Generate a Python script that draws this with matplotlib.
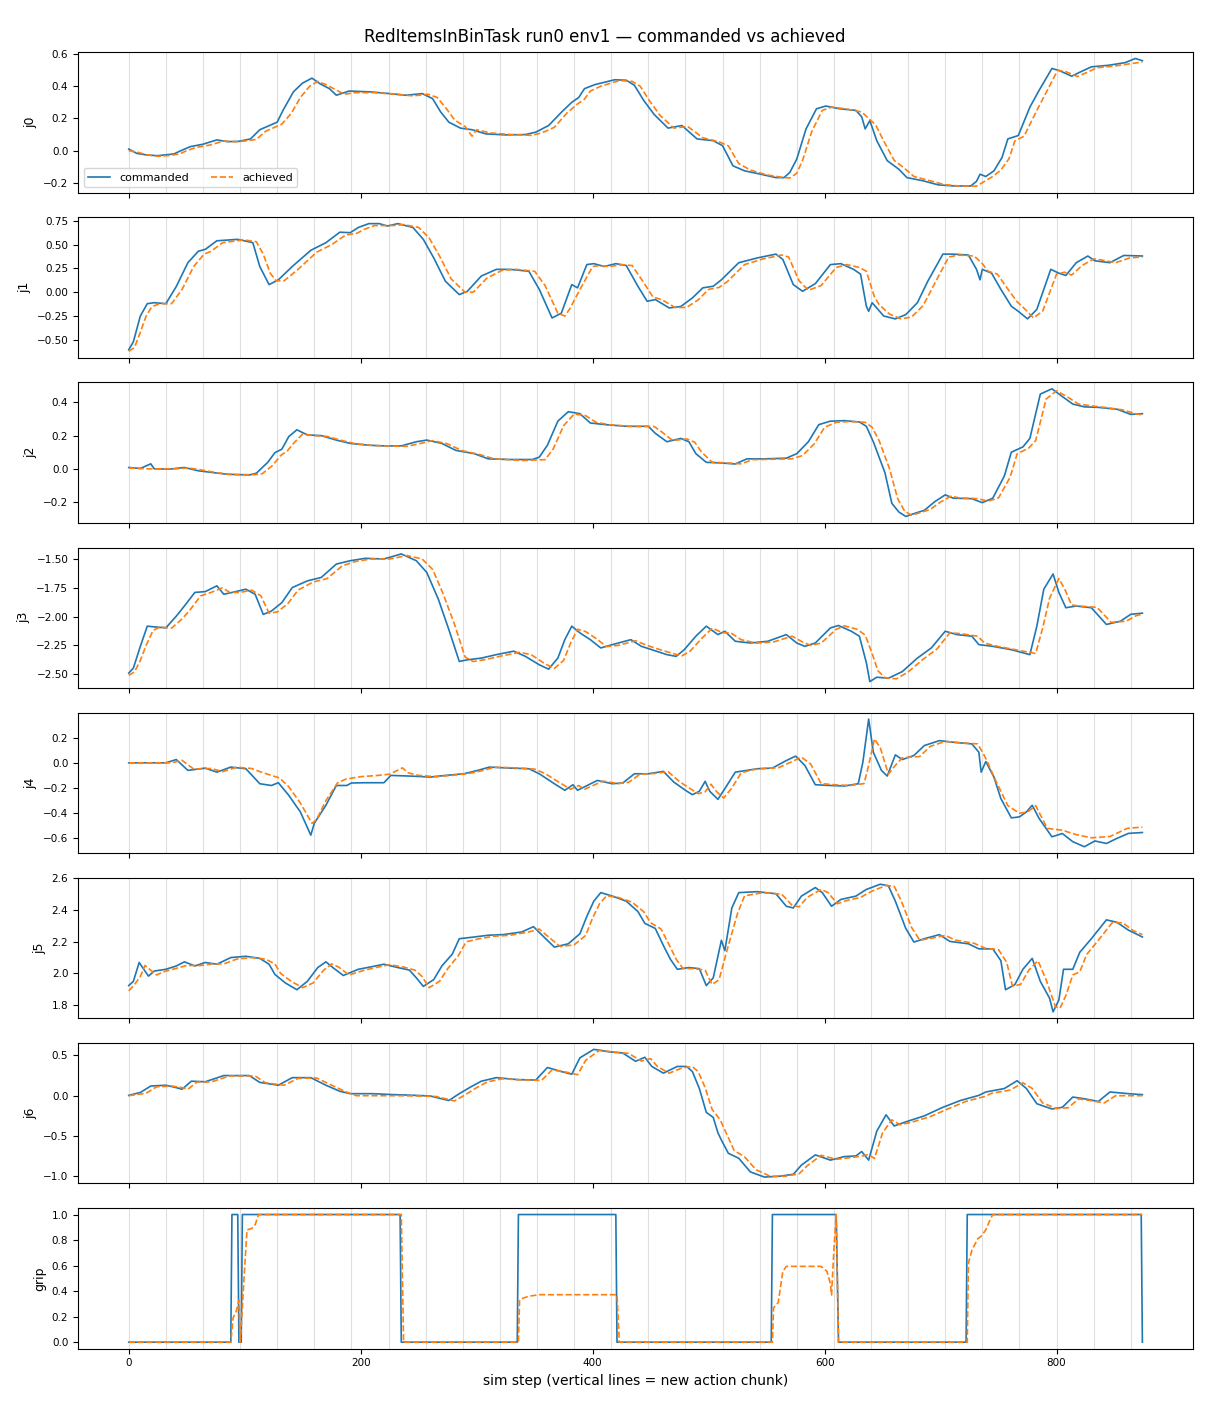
import numpy as np
import matplotlib
matplotlib.use("Agg")
import matplotlib.pyplot as plt

# (step, value) points, commanded / achieved per joint
j0_cmd = [(0,0.01),(7,-0.017),(16,-0.027),(25,-0.031),(33,-0.025),(39,-0.02),(45,0.0),(53,0.025),(64,0.04),(76,0.067),(85,0.056),(95,0.058),(105,0.073),(113,0.13),(128,0.177),(133,0.25),(142,0.365),(150,0.42),(158,0.45),(165,0.415),(173,0.385),(179,0.344),(190,0.37),(208,0.365),(225,0.354),(239,0.344),(253,0.354),(262,0.323),(269,0.24),(276,0.177),(286,0.14),(296,0.13),(308,0.104),(325,0.098),(342,0.10),(351,0.115),(362,0.156),(374,0.245),(382,0.30),(388,0.33),(393,0.385),(402,0.41),(419,0.44),(429,0.437),(436,0.406),(444,0.312),(453,0.225),(465,0.14),(477,0.156),(490,0.073),(504,0.062),(512,0.031),(521,-0.094),(531,-0.125),(545,-0.146),(558,-0.167),(565,-0.167),(570,-0.135),(576,-0.052),(584,0.135),(593,0.26),(601,0.277),(613,0.26),(627,0.25),(632,0.21),(635,0.135),(639,0.187),(645,0.062),(654,-0.062),(664,-0.115),(671,-0.167),(685,-0.187),(698,-0.212),(712,-0.219),(726,-0.219),(731,-0.19),(734,-0.146),(739,-0.16),(746,-0.125),(753,-0.042),(758,0.073),(767,0.094),(777,0.27),(785,0.375),(796,0.51),(803,0.495),(813,0.462),(821,0.49),(830,0.52),(845,0.53),(859,0.546),(868,0.572),(874,0.558)]
j0_ach = [(0,0.0),(8,-0.01),(15,-0.025),(25,-0.035),(35,-0.03),(44,-0.02),(50,0.0),(58,0.02),(70,0.035),(82,0.06),(92,0.055),(100,0.06),(110,0.07),(118,0.12),(132,0.165),(140,0.23),(148,0.33),(156,0.40),(163,0.43),(170,0.41),(178,0.38),(186,0.35),(195,0.36),(212,0.36),(230,0.35),(245,0.34),(258,0.35),(266,0.33),(274,0.26),(281,0.19),(290,0.15),(296,0.09),(300,0.13),(312,0.11),(330,0.10),(347,0.095),(356,0.11),(367,0.145),(378,0.235),(387,0.29),(393,0.32),(398,0.37),(407,0.40),(423,0.435),(434,0.43),(441,0.40),(449,0.31),(458,0.22),(470,0.14),(482,0.15),(495,0.08),(509,0.055),(517,0.03),(526,-0.08),(536,-0.12),(550,-0.15),(563,-0.165),(570,-0.17),(576,-0.14),(581,-0.06),(589,0.12),(598,0.25),(606,0.27),(618,0.26),(632,0.24),(638,0.20),(644,0.16),(651,0.06),(660,-0.06),(669,-0.11),(677,-0.16),(690,-0.185),(703,-0.21),(717,-0.22),(731,-0.22),(738,-0.19),(745,-0.16),(752,-0.12),(759,-0.05),(764,0.06),(772,0.09),(783,0.25),(791,0.36),(801,0.50),(808,0.49),(818,0.46),(826,0.485),(835,0.515),(850,0.525),(864,0.54),(874,0.55)]

j1_cmd = [(0,-0.604),(4,-0.52),(10,-0.25),(16,-0.12),(22,-0.11),(32,-0.12),(41,0.06),(51,0.31),(60,0.43),(66,0.45),(76,0.54),(94,0.555),(107,0.52),(113,0.27),(121,0.08),(129,0.13),(141,0.27),(157,0.44),(170,0.52),(182,0.63),(191,0.625),(198,0.68),(207,0.72),(216,0.72),(223,0.695),(232,0.72),(245,0.68),(254,0.555),(263,0.36),(273,0.116),(285,-0.025),(292,0.01),(304,0.17),(317,0.24),(329,0.24),(345,0.22),(354,0.03),(365,-0.27),(373,-0.22),(382,0.08),(387,0.046),(395,0.29),(401,0.30),(410,0.27),(420,0.30),(429,0.28),(439,0.063),(447,-0.095),(454,-0.077),(466,-0.165),(476,-0.15),(486,-0.06),(495,0.046),(504,0.063),(511,0.13),(526,0.31),(542,0.36),(558,0.40),(564,0.344),(573,0.08),(581,0.01),(592,0.09),(605,0.29),(614,0.30),(625,0.24),(631,0.19),(636,-0.147),(638,-0.20),(641,-0.11),(651,-0.25),(661,-0.28),(670,-0.235),(680,-0.11),(689,0.116),(702,0.40),(711,0.40),(724,0.39),(731,0.24),(734,0.13),(736,0.24),(744,0.20),(752,0.03),(761,-0.147),(767,-0.20),(775,-0.28),(783,-0.18),(795,0.24),(802,0.20),(808,0.176),(817,0.31),(827,0.38),(833,0.33),(846,0.31),(858,0.386),(874,0.38)]
j1_ach = [(0,-0.62),(5,-0.58),(10,-0.42),(15,-0.25),(20,-0.15),(27,-0.12),(37,-0.12),(46,0.03),(56,0.27),(65,0.40),(71,0.43),(81,0.52),(99,0.55),(110,0.53),(116,0.40),(122,0.20),(127,0.12),(134,0.12),(146,0.24),(162,0.42),(175,0.50),(187,0.60),(197,0.62),(203,0.66),(212,0.70),(228,0.70),(237,0.71),(250,0.68),(259,0.57),(268,0.38),(278,0.14),(290,0.0),(297,0.0),(309,0.15),(322,0.23),(334,0.24),(350,0.22),(359,0.07),(370,-0.22),(376,-0.25),(380,-0.18),(390,0.05),(400,0.27),(406,0.28),(415,0.27),(425,0.29),(434,0.28),(443,0.12),(452,-0.05),(460,-0.08),(471,-0.16),(481,-0.16),(491,-0.08),(500,0.03),(509,0.05),(516,0.11),(531,0.29),(547,0.35),(563,0.39),(569,0.37),(578,0.12),(586,0.02),(597,0.07),(610,0.26),(619,0.29),(630,0.26),(636,0.22),(643,-0.05),(647,-0.13),(656,-0.23),(666,-0.28),(675,-0.26),(685,-0.14),(694,0.07),(707,0.37),(716,0.39),(729,0.38),(736,0.30),(741,0.22),(749,0.19),(757,0.05),(766,-0.10),(773,-0.18),(780,-0.27),(788,-0.20),(800,0.19),(807,0.21),(813,0.18),(822,0.28),(832,0.35),(838,0.34),(851,0.31),(863,0.36),(874,0.37)]

j2_cmd = [(0,0.008),(10,0.002),(19,0.03),(22,0.0),(35,-0.002),(48,0.008),(60,-0.012),(73,-0.023),(85,-0.033),(104,-0.037),(110,-0.027),(120,0.04),(126,0.097),(132,0.118),(138,0.194),(145,0.235),(154,0.204),(166,0.20),(179,0.173),(191,0.153),(207,0.142),(220,0.138),(235,0.138),(248,0.163),(257,0.173),(270,0.153),(282,0.111),(298,0.091),(310,0.06),(329,0.056),(348,0.056),(354,0.07),(361,0.142),(370,0.287),(379,0.344),(389,0.332),(398,0.276),(411,0.266),(429,0.256),(448,0.256),(454,0.214),(464,0.163),(476,0.183),(483,0.163),(489,0.091),(498,0.039),(511,0.035),(523,0.029),(533,0.06),(548,0.06),(567,0.064),(576,0.091),(586,0.163),(595,0.266),(605,0.287),(617,0.29),(630,0.282),(636,0.256),(642,0.163),(652,-0.023),(658,-0.208),(664,-0.26),(670,-0.287),(677,-0.27),(686,-0.25),(695,-0.198),(704,-0.157),(711,-0.177),(727,-0.18),(736,-0.204),(745,-0.177),(755,-0.043),(761,0.10),(771,0.132),(777,0.183),(786,0.45),(796,0.482),(805,0.435),(814,0.39),(824,0.373),(836,0.37),(852,0.359),(864,0.328),(874,0.332)]
j2_ach = [(0,0.005),(15,0.0),(40,0.0),(52,0.005),(65,-0.01),(77,-0.025),(90,-0.035),(109,-0.035),(115,-0.03),(124,0.02),(131,0.08),(137,0.11),(143,0.16),(150,0.21),(159,0.20),(171,0.195),(184,0.17),(196,0.15),(212,0.14),(240,0.135),(253,0.155),(262,0.17),(275,0.15),(287,0.11),(303,0.085),(315,0.06),(340,0.05),(359,0.055),(366,0.12),(375,0.26),(384,0.33),(394,0.32),(403,0.28),(415,0.265),(434,0.255),(453,0.255),(460,0.22),(469,0.17),(481,0.18),(488,0.16),(494,0.10),(503,0.04),(516,0.035),(528,0.03),(538,0.055),(572,0.06),(581,0.08),(591,0.15),(600,0.25),(610,0.28),(622,0.285),(635,0.28),(641,0.25),(647,0.17),(656,0.0),(663,-0.18),(669,-0.255),(675,-0.28),(682,-0.265),(691,-0.245),(700,-0.20),(709,-0.165),(716,-0.175),(732,-0.18),(741,-0.195),(750,-0.175),(760,-0.05),(766,0.09),(776,0.125),(782,0.17),(791,0.42),(800,0.47),(810,0.43),(819,0.39),(829,0.38),(841,0.37),(857,0.355),(869,0.33),(874,0.325)]

j3_cmd = [(0,-2.49),(4,-2.447),(10,-2.258),(16,-2.083),(22,-2.089),(32,-2.098),(41,-1.996),(48,-1.908),(57,-1.79),(66,-1.783),(76,-1.733),(82,-1.806),(91,-1.786),(101,-1.762),(109,-1.806),(116,-1.981),(123,-1.952),(132,-1.879),(141,-1.748),(154,-1.69),(166,-1.66),(179,-1.544),(191,-1.515),(204,-1.494),(220,-1.50),(235,-1.456),(248,-1.515),(257,-1.617),(267,-1.85),(276,-2.112),(285,-2.389),(292,-2.375),(304,-2.36),(317,-2.33),(332,-2.30),(342,-2.345),(354,-2.418),(362,-2.456),(370,-2.36),(376,-2.20),(382,-2.083),(389,-2.141),(398,-2.20),(407,-2.272),(417,-2.243),(433,-2.20),(442,-2.258),(451,-2.287),(464,-2.33),(472,-2.345),(479,-2.287),(489,-2.17),(498,-2.083),(508,-2.156),(514,-2.127),(523,-2.214),(536,-2.229),(551,-2.214),(567,-2.156),(576,-2.229),(583,-2.258),(592,-2.229),(605,-2.098),(612,-2.077),(623,-2.127),(630,-2.17),(636,-2.40),(639,-2.564),(645,-2.526),(655,-2.535),(667,-2.477),(680,-2.36),(692,-2.272),(704,-2.127),(714,-2.156),(727,-2.17),(733,-2.243),(745,-2.258),(761,-2.287),(777,-2.33),(783,-2.083),(789,-1.762),(797,-1.63),(802,-1.79),(808,-1.923),(817,-1.908),(830,-1.923),(843,-2.068),(855,-2.04),(864,-1.98),(874,-1.97)]
j3_ach = [(0,-2.51),(5,-2.48),(10,-2.38),(15,-2.25),(21,-2.12),(27,-2.09),(37,-2.10),(46,-2.02),(53,-1.94),(62,-1.82),(71,-1.79),(81,-1.75),(87,-1.79),(96,-1.79),(106,-1.77),(114,-1.82),(121,-1.97),(128,-1.96),(137,-1.89),(146,-1.77),(159,-1.70),(171,-1.67),(184,-1.56),(196,-1.52),(209,-1.50),(225,-1.50),(240,-1.47),(253,-1.50),(262,-1.59),(271,-1.80),(281,-2.07),(290,-2.35),(297,-2.39),(309,-2.37),(322,-2.34),(337,-2.31),(347,-2.33),(359,-2.41),(367,-2.45),(375,-2.38),(381,-2.23),(387,-2.11),(394,-2.13),(403,-2.19),(412,-2.26),(422,-2.25),(437,-2.21),(447,-2.25),(456,-2.28),(469,-2.32),(477,-2.34),(484,-2.30),(494,-2.19),(503,-2.10),(512,-2.14),(519,-2.14),(528,-2.20),(541,-2.23),(556,-2.22),(572,-2.17),(581,-2.22),(588,-2.25),(597,-2.23),(610,-2.11),(617,-2.08),(628,-2.11),(635,-2.16),(641,-2.32),(646,-2.47),(652,-2.53),(662,-2.54),(672,-2.48),(685,-2.37),(697,-2.28),(708,-2.14),(719,-2.15),(732,-2.17),(738,-2.23),(750,-2.26),(766,-2.29),(782,-2.32),(788,-2.10),(794,-1.84),(802,-1.67),(807,-1.76),(813,-1.90),(822,-1.91),(835,-1.92),(847,-2.05),(860,-2.04),(869,-1.99),(874,-1.98)]

j4_cmd = [(0,0.0),(10,0.0),(32,0.0),(41,0.026),(51,-0.06),(66,-0.042),(76,-0.074),(88,-0.034),(101,-0.047),(113,-0.166),(123,-0.18),(129,-0.158),(138,-0.258),(148,-0.39),(157,-0.574),(160,-0.48),(170,-0.337),(179,-0.18),(188,-0.18),(192,-0.16),(204,-0.158),(220,-0.158),(226,-0.10),(242,-0.105),(260,-0.113),(273,-0.10),(289,-0.087),(301,-0.06),(311,-0.034),(329,-0.042),(345,-0.047),(354,-0.087),(367,-0.166),(376,-0.218),(383,-0.174),(387,-0.218),(404,-0.14),(417,-0.166),(426,-0.16),(436,-0.087),(448,-0.087),(461,-0.068),(470,-0.153),(480,-0.218),(486,-0.253),(492,-0.226),(497,-0.147),(501,-0.226),(508,-0.29),(514,-0.205),(523,-0.074),(533,-0.06),(542,-0.047),(555,-0.042),(567,0.018),(575,0.053),(583,-0.021),(592,-0.174),(605,-0.18),(617,-0.184),(629,-0.166),(633,0.005),(638,0.347),(642,0.084),(649,-0.06),(654,-0.105),(661,0.063),(667,0.026),(677,0.058),(686,0.137),(699,0.176),(711,0.163),(727,0.15),(733,0.084),(735,-0.074),(739,0.01),(746,-0.113),(752,-0.284),(761,-0.437),(768,-0.429),(774,-0.39),(779,-0.337),(785,-0.442),(796,-0.587),(805,-0.561),(814,-0.626),(824,-0.666),(833,-0.62),(843,-0.64),(852,-0.60),(862,-0.56),(874,-0.553)]
j4_ach = [(0,0.0),(15,0.0),(37,0.0),(46,0.02),(56,-0.05),(71,-0.045),(81,-0.07),(93,-0.035),(106,-0.045),(113,-0.07),(123,-0.10),(130,-0.12),(138,-0.19),(148,-0.32),(158,-0.48),(162,-0.45),(170,-0.30),(180,-0.16),(187,-0.13),(200,-0.11),(215,-0.10),(225,-0.09),(236,-0.04),(241,-0.08),(250,-0.10),(265,-0.11),(278,-0.10),(293,-0.085),(306,-0.06),(315,-0.035),(334,-0.04),(350,-0.05),(359,-0.085),(372,-0.16),(381,-0.21),(388,-0.18),(393,-0.21),(409,-0.145),(422,-0.165),(431,-0.155),(441,-0.09),(453,-0.085),(465,-0.07),(475,-0.15),(485,-0.21),(491,-0.245),(497,-0.23),(502,-0.17),(507,-0.23),(513,-0.28),(520,-0.20),(528,-0.08),(538,-0.055),(547,-0.045),(560,-0.04),(572,0.01),(580,0.045),(588,-0.01),(597,-0.165),(610,-0.175),(622,-0.18),(634,-0.165),(638,-0.02),(643,0.19),(648,0.12),(655,-0.09),(661,-0.02),(667,0.04),(682,0.05),(691,0.13),(704,0.17),(716,0.16),(732,0.15),(737,0.07),(740,0.015),(748,-0.15),(758,-0.34),(768,-0.40),(775,-0.39),(782,-0.34),(792,-0.52),(805,-0.535),(817,-0.57),(830,-0.595),(846,-0.585),(861,-0.52),(874,-0.51)]

j5_cmd = [(0,1.923),(4,1.95),(9,2.069),(13,2.026),(17,1.983),(22,2.015),(32,2.026),(41,2.047),(48,2.073),(57,2.047),(66,2.069),(76,2.058),(88,2.10),(101,2.108),(113,2.095),(121,2.058),(126,1.994),(135,1.94),(145,1.897),(154,1.95),(163,2.037),(170,2.073),(176,2.037),(185,1.987),(198,2.026),(210,2.043),(220,2.058),(232,2.037),(242,2.021),(248,1.972),(254,1.918),(263,1.961),(270,2.047),(279,2.122),(285,2.219),(298,2.23),(310,2.241),(323,2.245),(339,2.262),(349,2.295),(358,2.23),(367,2.166),(379,2.187),(389,2.25),(395,2.36),(401,2.456),(407,2.51),(417,2.488),(429,2.456),(439,2.391),(445,2.316),(454,2.284),(461,2.176),(467,2.09),(473,2.026),(483,2.037),(492,2.03),(498,1.923),(504,1.972),(511,2.209),(514,2.144),(520,2.413),(526,2.51),(542,2.516),(558,2.503),(567,2.424),(573,2.413),(580,2.488),(592,2.542),(598,2.51),(606,2.424),(614,2.467),(627,2.488),(636,2.53),(648,2.563),(655,2.553),(661,2.456),(670,2.284),(677,2.198),(686,2.219),(699,2.245),(708,2.202),(724,2.187),(733,2.155),(745,2.155),(752,2.08),(756,1.897),(764,1.929),(771,2.026),(779,2.095),(786,1.95),(794,1.843),(797,1.757),(802,1.832),(806,2.026),(814,2.026),(820,2.133),(830,2.219),(843,2.338),(852,2.323),(862,2.273),(874,2.23)]
j5_ach = [(0,1.89),(5,1.93),(10,1.98),(14,2.05),(19,2.02),(24,1.99),(30,2.01),(40,2.03),(50,2.05),(62,2.05),(72,2.06),(82,2.06),(93,2.09),(106,2.10),(118,2.09),(126,2.06),(131,2.00),(140,1.95),(150,1.91),(159,1.94),(168,2.02),(175,2.06),(181,2.04),(190,1.99),(203,2.02),(215,2.04),(225,2.055),(237,2.04),(247,2.02),(253,1.98),(259,1.91),(268,1.95),(275,2.03),(284,2.11),(291,2.20),(303,2.22),(315,2.235),(328,2.24),(344,2.26),(354,2.28),(362,2.23),(372,2.17),(384,2.18),(394,2.24),(400,2.35),(406,2.44),(412,2.49),(422,2.48),(434,2.45),(444,2.39),(450,2.32),(459,2.28),(466,2.18),(472,2.09),(478,2.03),(488,2.03),(497,2.02),(503,1.93),(509,1.96),(516,2.15),(525,2.38),(531,2.49),(547,2.51),(563,2.50),(572,2.43),(578,2.42),(585,2.48),(597,2.53),(603,2.51),(611,2.44),(619,2.46),(631,2.48),(641,2.52),(653,2.555),(660,2.55),(666,2.46),(675,2.29),(682,2.21),(691,2.22),(704,2.24),(713,2.21),(729,2.19),(738,2.16),(750,2.15),(757,2.07),(762,1.92),(769,1.93),(776,2.02),(784,2.08),(791,1.96),(799,1.79),(803,1.78),(808,1.86),(814,1.99),(820,2.01),(826,2.12),(835,2.20),(848,2.32),(857,2.32),(866,2.27),(874,2.245)]

j6_cmd = [(0,0.004),(10,0.04),(19,0.12),(32,0.13),(41,0.10),(46,0.08),(54,0.18),(66,0.173),(82,0.25),(104,0.25),(113,0.165),(129,0.13),(141,0.224),(157,0.224),(170,0.13),(182,0.055),(191,0.025),(210,0.025),(229,0.013),(248,0.004),(260,-0.004),(276,-0.06),(285,0.025),(295,0.11),(304,0.18),(317,0.224),(335,0.20),(351,0.194),(361,0.35),(373,0.30),(382,0.266),(389,0.47),(401,0.575),(414,0.545),(426,0.53),(437,0.427),(445,0.477),(451,0.363),(461,0.28),(473,0.363),(481,0.363),(486,0.30),(492,0.089),(498,-0.207),(504,-0.27),(508,-0.46),(511,-0.55),(517,-0.715),(526,-0.777),(536,-0.946),(548,-1.01),(561,-1.00),(573,-0.976),(580,-0.862),(592,-0.735),(605,-0.80),(617,-0.756),(627,-0.748),(632,-0.693),(638,-0.80),(645,-0.44),(653,-0.237),(660,-0.376),(670,-0.325),(686,-0.25),(702,-0.144),(717,-0.06),(733,0.004),(739,0.046),(755,0.089),(766,0.186),(774,0.089),(783,-0.10),(796,-0.165),(805,-0.144),(814,-0.017),(824,-0.038),(836,-0.072),(846,0.046),(862,0.025),(874,0.013)]
j6_ach = [(0,0.0),(15,0.03),(24,0.11),(37,0.12),(46,0.10),(51,0.08),(59,0.17),(71,0.17),(87,0.245),(109,0.245),(118,0.16),(134,0.13),(146,0.215),(162,0.22),(175,0.13),(187,0.05),(196,0.0),(215,0.0),(234,0.0),(253,-0.005),(265,-0.01),(281,-0.065),(290,0.01),(300,0.10),(309,0.17),(322,0.21),(340,0.195),(356,0.19),(365,0.32),(378,0.29),(387,0.26),(394,0.44),(406,0.565),(419,0.54),(431,0.525),(442,0.43),(450,0.46),(456,0.36),(466,0.28),(478,0.35),(486,0.36),(491,0.30),(497,0.10),(503,-0.17),(510,-0.30),(516,-0.49),(522,-0.68),(531,-0.76),(541,-0.92),(553,-1.00),(566,-1.00),(578,-0.97),(585,-0.87),(597,-0.74),(610,-0.79),(622,-0.77),(632,-0.75),(638,-0.73),(643,-0.78),(650,-0.46),(658,-0.30),(665,-0.36),(675,-0.33),(691,-0.26),(707,-0.16),(722,-0.07),(738,-0.01),(744,0.03),(760,0.07),(771,0.16),(779,0.09),(788,-0.09),(800,-0.16),(810,-0.15),(819,-0.04),(829,-0.06),(841,-0.09),(851,0.0),(866,0.0),(874,0.0)]

grip_cmd = [(0,0),(88,0),(89,1),(94,1),(95,0),(97,0),(98,1),(234,1),(235,0),(335,0),(336,1),(420,1),(421,0),(554,0),(555,1),(610,1),(612,0),(722,0),(723,1),(873,1),(874,0)]
grip_ach = [(0,0),(88,0),(90,0.19),(93,0.25),(95,0.33),(96,0.0),(97,0.12),(100,0.59),(102,0.88),(106,0.89),(109,0.92),(112,1.0),(235,1.0),(237,0.0),(336,0.0),(337,0.33),(340,0.345),(345,0.36),(354,0.372),(421,0.372),(423,0.0),(555,0.0),(556,0.27),(560,0.31),(564,0.555),(567,0.594),(597,0.594),(602,0.555),(605,0.46),(606,0.37),(608,0.72),(610,1.0),(612,0.0),(723,0.0),(724,0.62),(727,0.72),(732,0.81),(735,0.83),(739,0.88),(742,0.945),(745,1.0),(874,1.0)]

names = ["j0", "j1", "j2", "j3", "j4", "j5", "j6", "grip"]
cmds = [j0_cmd, j1_cmd, j2_cmd, j3_cmd, j4_cmd, j5_cmd, j6_cmd, grip_cmd]
achs = [j0_ach, j1_ach, j2_ach, j3_ach, j4_ach, j5_ach, j6_ach, grip_ach]
chunk = 32
n_steps = 875

fig, axes = plt.subplots(8, 1, sharex=True, figsize=(12.1, 14.08), dpi=100)
fig.subplots_adjust(left=0.0645, right=0.986, top=0.963, bottom=0.0422, hspace=0.176)

for ax, name, c, a in zip(axes, names, cmds, achs):
    for b in range(0, n_steps, chunk):
        ax.axvline(b, color="gray", alpha=0.25, lw=0.8)
    c = np.array(c)
    a = np.array(a)
    ax.plot(c[:, 0], c[:, 1], color="C0", lw=1.2, label="commanded")
    ax.plot(a[:, 0], a[:, 1], color="C1", lw=1.2, ls="--", label="achieved")
    ax.set_ylabel(name, fontsize=9)
    ax.tick_params(labelsize=7.5)

axes[0].legend(loc="lower left", ncol=2, fontsize=8)
axes[-1].set_xlabel("sim step (vertical lines = new action chunk)", fontsize=10)
fig.suptitle("RedItemsInBinTask run0 env1 — commanded vs achieved", fontsize=12)

plt.savefig("out.png")
